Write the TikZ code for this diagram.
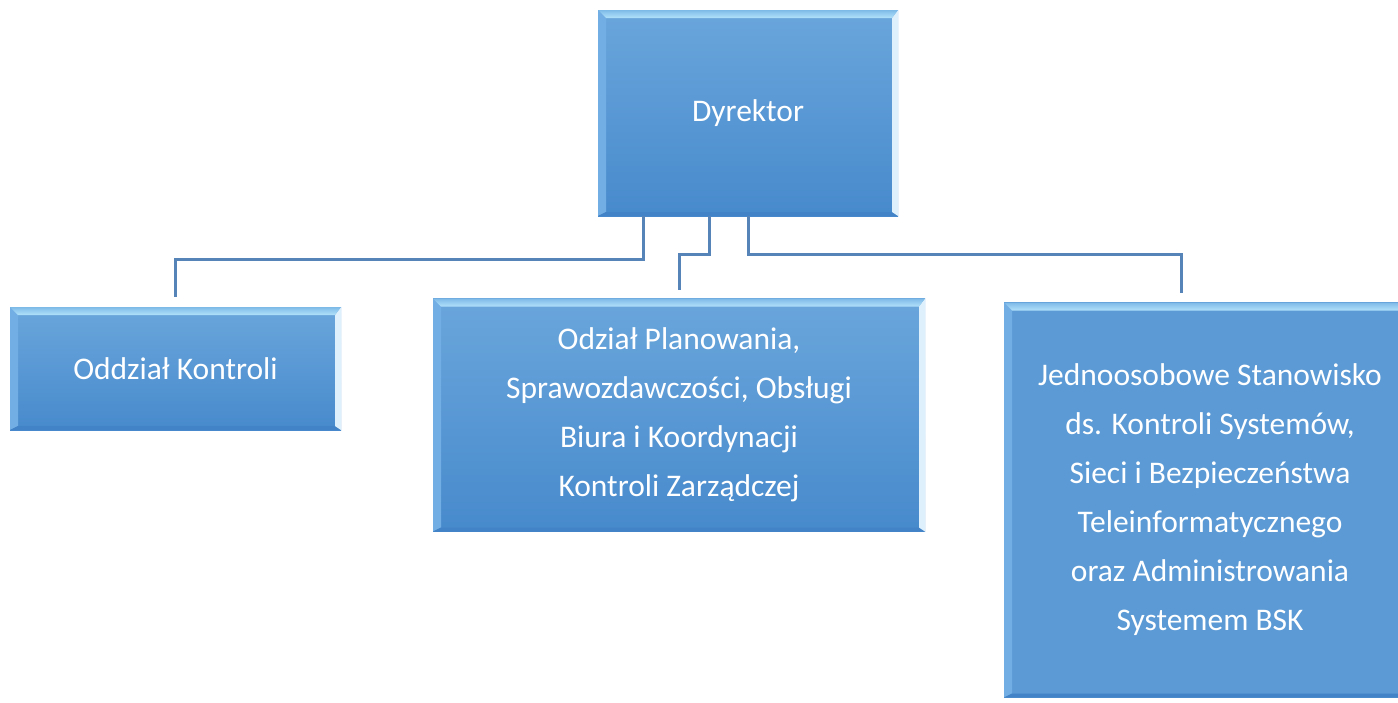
\documentclass[tikz,border=0pt]{standalone}
\usepackage{fontspec}
\setmainfont{Carlito}
\definecolor{boxtop}{RGB}{106,166,220}
\definecolor{boxbot}{RGB}{71,138,204}
\definecolor{boxflat}{RGB}{91,154,213}
\definecolor{bevtopA}{RGB}{126,186,232}
\definecolor{bevtopB}{RGB}{178,226,250}
\definecolor{bevleft}{RGB}{114,174,228}
\definecolor{bevright}{RGB}{222,240,251}
\definecolor{bevbot}{RGB}{66,130,198}
\definecolor{linkc}{RGB}{86,132,184}
\begin{document}
\begin{tikzpicture}[x=0.5pt,y=-0.5pt,
  orgbox/.style={rectangle, inner sep=0pt, text=white, align=center,
    font=\fontsize{15.75}{24.5}\selectfont,
    top color=boxtop, bottom color=boxbot,
    path picture={
      \coordinate (pnw) at (path picture bounding box.north west);
      \coordinate (pne) at (path picture bounding box.north east);
      \coordinate (psw) at (path picture bounding box.south west);
      \coordinate (pse) at (path picture bounding box.south east);
      % bevel: left edge
      \fill[bevleft] (pnw) -- ([shift={(4pt,-4pt)}]pnw) -- ([shift={(4pt,2pt)}]psw) -- (psw) -- cycle;
      % bevel: bottom edge
      \fill[bevbot] (psw) -- ([shift={(4pt,2pt)}]psw) -- ([shift={(-3pt,2pt)}]pse) -- (pse) -- cycle;
      % bevel: right edge highlight
      \fill[bevright] (pne) -- ([shift={(-3pt,-4pt)}]pne) -- ([shift={(-3pt,2pt)}]pse) -- (pse) -- cycle;
      % bevel: top edge
      \shade[top color=bevtopA, bottom color=bevtopB]
        (pnw) -- (pne) -- ([shift={(-3pt,-4pt)}]pne) -- ([shift={(4pt,-4pt)}]pnw) -- cycle;
    }},
  flatbox/.style={orgbox, top color=boxflat, bottom color=boxflat},
  link/.style={draw=linkc, line width=1.5pt}]
\useasboundingbox (0,0) rectangle (1398,702);
\clip (0,0) rectangle (1398,702);

% units
\node[orgbox, minimum width=150pt, minimum height=103pt] (dyr) at (748,113) {Dyrektor};
\node[orgbox, minimum width=165.5pt, minimum height=61.5pt] (ok) at (175.5,368.5) {Oddział Kontroli};
\node[orgbox, minimum width=246pt, minimum height=116.5pt] (op) at (679,415) {Odział Planowania,\\Sprawozdawczości, Obsługi\\Biura i Koordynacji\\Kontroli Zarządczej};
\node[flatbox, minimum width=206pt, minimum height=197.5pt] (js) at (1210,500) {Jednoosobowe Stanowisko\\ds. Kontroli Systemów,\\Sieci i Bezpieczeństwa\\Teleinformatycznego\\oraz Administrowania\\Systemem BSK};

% connector ends just above the units
\coordinate (t1) at (175,297);
\coordinate (t2) at (679,290);
\coordinate (t3) at (1181,293);

\draw[link] ([xshift=-52.5pt]dyr.south) -- ++(0,43) -| (t1);
\draw[link] ([xshift=-19.5pt]dyr.south) -- ++(0,38) -| (t2);
\draw[link] (dyr.south) -- ++(0,38) -| (t3);
\end{tikzpicture}
\end{document}
